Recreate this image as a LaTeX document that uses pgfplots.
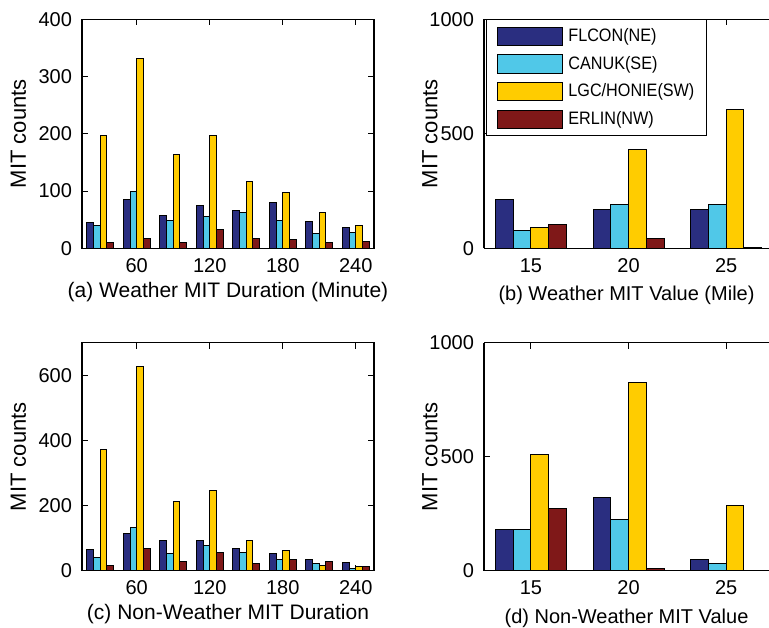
\documentclass[border=0pt]{standalone}
\usepackage{fontspec}
\setmainfont{Liberation Sans}
\newfontfamily\legfont{Liberation Sans}[FakeStretch=0.9]
\usepackage{pgfplots}
\pgfplotsset{compat=1.18}

\definecolor{cnavy}{RGB}{42,46,128}
\definecolor{ccyan}{RGB}{80,200,232}
\definecolor{cyell}{RGB}{255,204,0}
\definecolor{cred}{RGB}{127,24,24}

\pgfplotsset{
  mitbase/.style={
    scale only axis,
    ybar=0pt,
    ymin=0,
    /pgf/number format/assume math mode=true,
    /pgf/number format/1000 sep={},
    scaled y ticks=false,
    ticklabel style={font=\fontsize{10}{12}\selectfont},
    xticklabel style={yshift=-1.5pt},
    yticklabel style={xshift=-1.5pt},
    ylabel={MIT counts},
    ylabel style={font=\fontsize{11}{13}\selectfont, anchor=center},
    xlabel style={font=\fontsize{10.5}{12}\selectfont, at={(axis description cs:0.5,0)}, anchor=center, yshift=-21.8pt},
  },
  finish/.style={
    tick align=inside,
    major tick length=3pt,
    tick style={black, line width=0.5pt},
    axis line style={black, line width=0.6pt, -},
  },
  legbar/.style={draw=black, line width=0.5pt,
    legend image code/.code={\draw[##1, draw=black, line width=0.5pt] (0pt,-4.6pt) rectangle (32.5pt,4.6pt);}},
  dur/.style={mitbase, width=146pt, xmin=15, xmax=255, xtick={60,120,180,240}, bar width=5.45,
    ylabel style={at={(axis description cs:-0.2175,0.5)}}, finish},
  val/.style={mitbase, width=142.5pt, xmin=12.6, xmax=27.19, xtick={15,20,25}, bar width=0.909,
    ymax=1000, ytick={0,500,1000},
    axis x line=box, axis y line=left,
    ylabel style={at={(axis description cs:-0.19,0.5)}}, finish},
}

\begin{document}
\begin{tikzpicture}
\useasboundingbox (0,0) rectangle (384.5pt,313.5pt);

% (a)
\begin{axis}[dur, at={(41pt,189.35pt)}, anchor=south west, height=114.5pt,
  ymax=400, ytick={0,100,200,300,400},
  xlabel={(a) Weather MIT Duration (Minute)}]
\addplot[fill=cnavy, legbar] coordinates {(30,45) (60,86) (90,57) (120,74) (150,66) (180,80) (210,46) (240,37)};
\addplot[fill=ccyan, legbar] coordinates {(30,39) (60,100) (90,49) (120,56) (150,63) (180,49) (210,25) (240,28)};
\addplot[fill=cyell, legbar] coordinates {(30,197) (60,332) (90,163) (120,197) (150,117) (180,98) (210,63) (240,40)};
\addplot[fill=cred, legbar] coordinates {(30,11) (60,17) (90,11) (120,32) (150,17) (180,15) (210,11) (240,12)};
\end{axis}

% (b)
\begin{axis}[val, at={(242pt,189.35pt)}, anchor=south west, height=114.5pt,
  xlabel={(b) Weather MIT Value (Mile)},
  legend style={at={(axis description cs:0.008,1)}, anchor=north west, draw=black, line width=0.5pt,
    font=\legfont\fontsize{9}{10}\selectfont, row sep=3.2pt, inner xsep=5pt, inner ysep=3pt,
    nodes={inner sep=1.3pt}, column sep=1.5pt},
  legend cell align=left]
\addplot[fill=cnavy, legbar] coordinates {(15,212) (20,171) (25,171)};
\addplot[fill=ccyan, legbar] coordinates {(15,77) (20,190) (25,190)};
\addplot[fill=cyell, legbar] coordinates {(15,91) (20,431) (25,604)};
\addplot[fill=cred, legbar] coordinates {(15,105) (20,42) (25,3)};
\legend{FLCON(NE),CANUK(SE),LGC/HONIE(SW),ERLIN(NW)}
\end{axis}

% (c)
\begin{axis}[dur, at={(41pt,28.15pt)}, anchor=south west, height=114pt,
  ymax=700, ytick={0,200,400,600},
  xlabel={(c) Non-Weather MIT Duration}]
\addplot[fill=cnavy, legbar] coordinates {(30,64) (60,113) (90,92) (120,92) (150,68) (180,52) (210,33) (240,24)};
\addplot[fill=ccyan, legbar] coordinates {(30,42) (60,132) (90,52) (120,77) (150,57) (180,33) (210,23) (240,8)};
\addplot[fill=cyell, legbar] coordinates {(30,372) (60,627) (90,212) (120,247) (150,92) (180,63) (210,15) (240,13)};
\addplot[fill=cred, legbar] coordinates {(30,17) (60,68) (90,28) (120,57) (150,23) (180,33) (210,28) (240,14)};
\end{axis}

% (d)
\begin{axis}[val, at={(242pt,28.15pt)}, anchor=south west, height=114pt,
  xlabel={(d) Non-Weather MIT Value}]
\addplot[fill=cnavy, legbar] coordinates {(15,181) (20,322) (25,47)};
\addplot[fill=ccyan, legbar] coordinates {(15,181) (20,224) (25,31)};
\addplot[fill=cyell, legbar] coordinates {(15,509) (20,826) (25,287)};
\addplot[fill=cred, legbar] coordinates {(15,273) (20,10) (25,0)};
\end{axis}
\end{tikzpicture}
\end{document}
